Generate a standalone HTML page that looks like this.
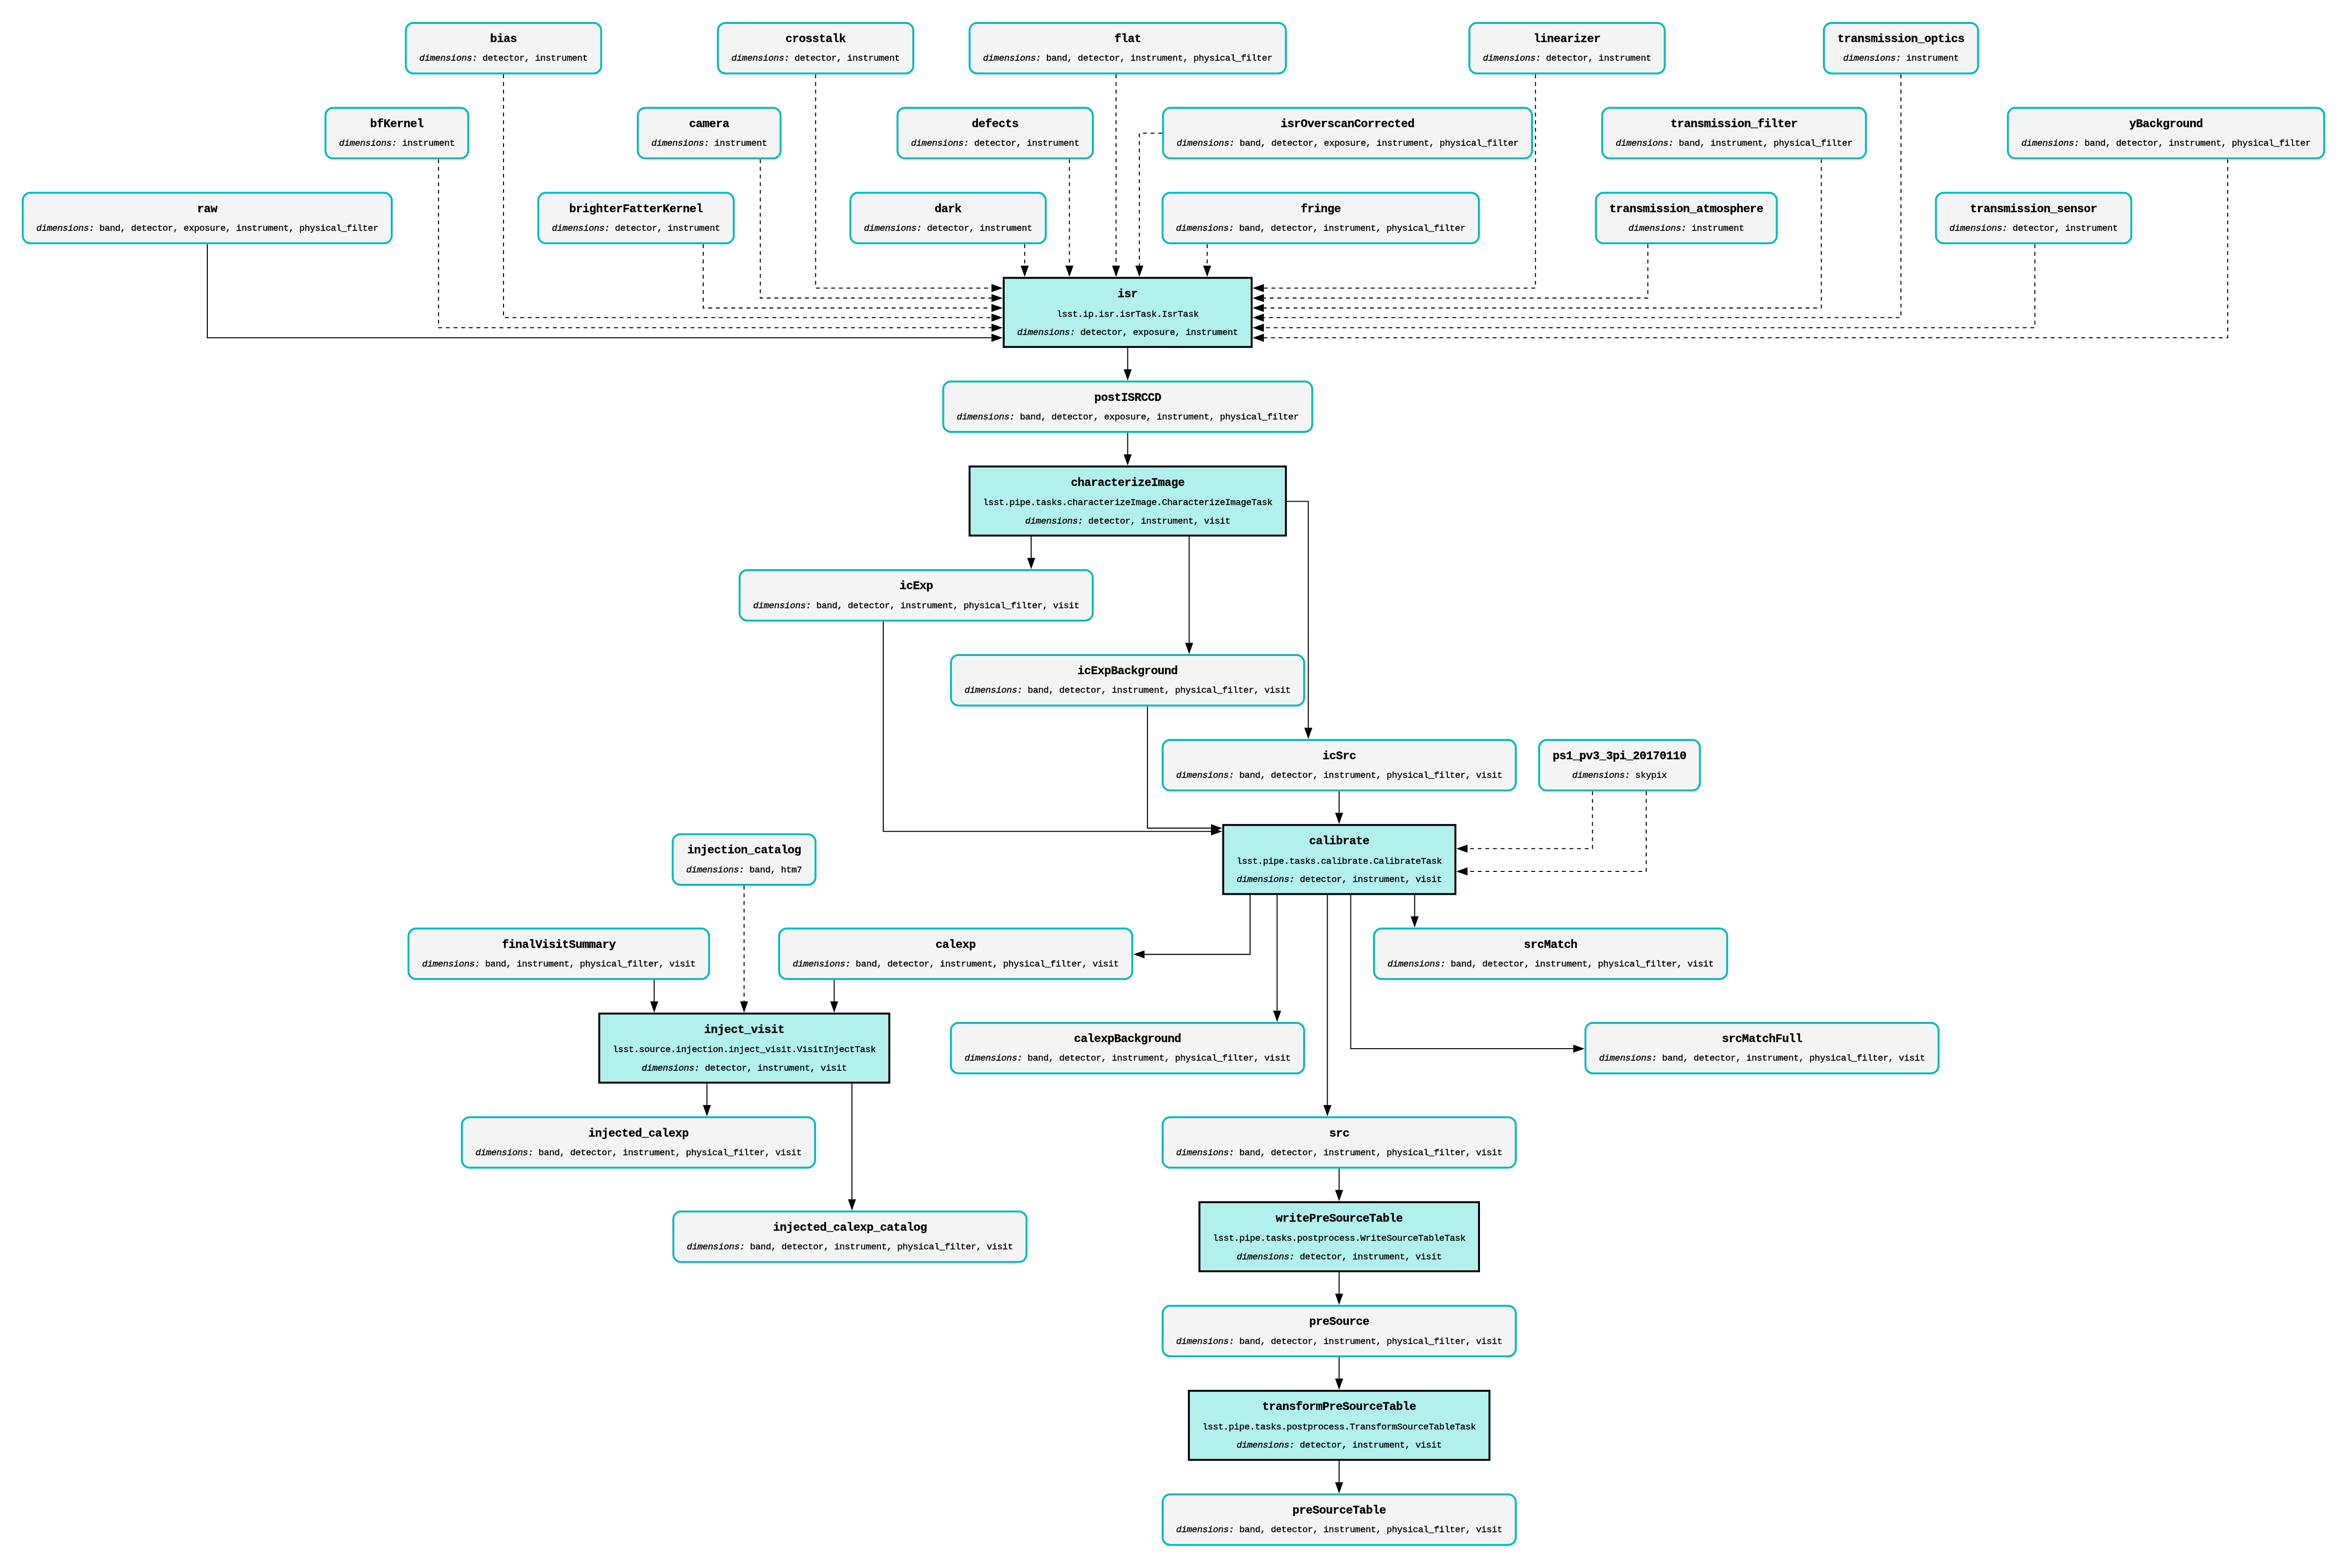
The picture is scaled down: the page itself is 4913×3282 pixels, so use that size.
<!DOCTYPE html>
<html><head><meta charset="utf-8"><title>pipeline</title>
<style>
html,body{margin:0;padding:0;background:#fff;}
svg{display:block;will-change:transform;}
text{font-family:"Liberation Mono",monospace;fill:#000;}
.t{font-weight:bold;font-size:24.2px;letter-spacing:-0.52px;stroke:#000;stroke-width:0.4px;}
.r{font-size:19.0px;letter-spacing:-0.39px;stroke:#000;stroke-width:0.45px;}
.i{font-style:italic;}
.e{fill:none;stroke:#000;stroke-width:2.10;}
.d{stroke-dasharray:8 8;}
.a{fill:#000;stroke:none;}
.db{fill:#F4F4F4;stroke:#00BABC;stroke-width:4.00;}
.tb{fill:#B2F0EE;stroke:#000;stroke-width:4.00;}
</style></head><body>
<svg width="4913" height="3282" viewBox="0 0 4913 3282">
<rect x="0" y="0" width="4913" height="3282" fill="#fff"/>
<path class="e d" d="M1707.3 155.7 L1707.3 603 L2075.5 603"/>
<polygon class="a" points="2099,603 2075.5,611.4 2075.5,594.6"/>
<path class="e d" d="M1591.6 333.5 L1591.6 623.9 L2075.5 623.9"/>
<polygon class="a" points="2099,623.9 2075.5,632.3 2075.5,615.5"/>
<path class="e d" d="M1472 511.3 L1472 644.6 L2075.5 644.6"/>
<polygon class="a" points="2099,644.6 2075.5,653 2075.5,636.2"/>
<path class="e d" d="M1054 155.7 L1054 664.8 L2075.5 664.8"/>
<polygon class="a" points="2099,664.8 2075.5,673.2 2075.5,656.4"/>
<path class="e d" d="M918 333.5 L918 686 L2075.5 686"/>
<polygon class="a" points="2099,686 2075.5,694.4 2075.5,677.6"/>
<path class="e" d="M434 511.3 L434 707 L2075.5 707"/>
<polygon class="a" points="2099,707 2075.5,715.4 2075.5,698.6"/>
<path class="e d" d="M3214.2 155.7 L3214.2 603 L2645.7 603"/>
<polygon class="a" points="2622.2,603 2645.7,594.6 2645.7,611.4"/>
<path class="e d" d="M3449.4 511.3 L3449.4 623.9 L2645.7 623.9"/>
<polygon class="a" points="2622.2,623.9 2645.7,615.5 2645.7,632.3"/>
<path class="e d" d="M3812.6 333.5 L3812.6 644.6 L2645.7 644.6"/>
<polygon class="a" points="2622.2,644.6 2645.7,636.2 2645.7,653"/>
<path class="e d" d="M3979.3 155.7 L3979.3 664.8 L2645.7 664.8"/>
<polygon class="a" points="2622.2,664.8 2645.7,656.4 2645.7,673.2"/>
<path class="e d" d="M4259.6 511.3 L4259.6 686 L2645.7 686"/>
<polygon class="a" points="2622.2,686 2645.7,677.6 2645.7,694.4"/>
<path class="e d" d="M4663.2 333.5 L4663.2 707 L2645.7 707"/>
<polygon class="a" points="2622.2,707 2645.7,698.6 2645.7,715.4"/>
<path class="e d" d="M2145 511.3 L2145 556.1"/>
<polygon class="a" points="2145,579.6 2136.6,556.1 2153.4,556.1"/>
<path class="e d" d="M2238.6 333.5 L2238.6 556.1"/>
<polygon class="a" points="2238.6,579.6 2230.2,556.1 2247,556.1"/>
<path class="e d" d="M2336.3 155.7 L2336.3 556.1"/>
<polygon class="a" points="2336.3,579.6 2327.9,556.1 2344.7,556.1"/>
<path class="e d" d="M2432.6 278.8 L2385 278.8 L2385 556.1"/>
<polygon class="a" points="2385,579.6 2376.6,556.1 2393.4,556.1"/>
<path class="e d" d="M2527 511.3 L2527 556.1"/>
<polygon class="a" points="2527,579.6 2518.6,556.1 2535.4,556.1"/>
<path class="e" d="M2360.6 728.1 L2360.6 772.9"/>
<polygon class="a" points="2360.6,796.4 2352.2,772.9 2369,772.9"/>
<path class="e" d="M2360.6 906.1 L2360.6 950.9"/>
<polygon class="a" points="2360.6,974.4 2352.2,950.9 2369,950.9"/>
<path class="e" d="M2158.6 1123 L2158.6 1167.7"/>
<polygon class="a" points="2158.6,1191.2 2150.2,1167.7 2167,1167.7"/>
<path class="e" d="M2489.3 1123 L2489.3 1345.5"/>
<polygon class="a" points="2489.3,1369 2480.9,1345.5 2497.7,1345.5"/>
<path class="e" d="M2693.8 1049.5 L2738.7 1049.5 L2738.7 1523.3"/>
<polygon class="a" points="2738.7,1546.8 2730.3,1523.3 2747.1,1523.3"/>
<path class="e" d="M2803.2 1656.5 L2803.2 1701.2"/>
<polygon class="a" points="2803.2,1724.8 2794.8,1701.2 2811.6,1701.2"/>
<path class="e" d="M1849 1300.9 L1849 1740.2 L2535 1740.2"/>
<polygon class="a" points="2558.5,1740.2 2535,1748.6 2535,1731.8"/>
<path class="e" d="M2402 1478.7 L2402 1733.4 L2535 1733.4"/>
<polygon class="a" points="2558.5,1733.4 2535,1741.8 2535,1725"/>
<path class="e d" d="M3333.6 1656.5 L3333.6 1776.3 L3072 1776.3"/>
<polygon class="a" points="3048.5,1776.3 3072,1767.9 3072,1784.7"/>
<path class="e d" d="M3446 1656.5 L3446 1824 L3072 1824"/>
<polygon class="a" points="3048.5,1824 3072,1815.6 3072,1832.4"/>
<path class="e" d="M2616.8 1873.3 L2616.8 1997.6 L2395.8 1997.6"/>
<polygon class="a" points="2372.3,1997.6 2395.8,1989.2 2395.8,2006"/>
<path class="e" d="M2673.4 1873.3 L2673.4 2115.5"/>
<polygon class="a" points="2673.4,2139 2665,2115.5 2681.8,2115.5"/>
<path class="e" d="M2778.6 1873.3 L2778.6 2312.9"/>
<polygon class="a" points="2778.6,2336.4 2770.2,2312.9 2787,2312.9"/>
<path class="e" d="M2827.5 1873.3 L2827.5 2195 L3293.3 2195"/>
<polygon class="a" points="3316.8,2195 3293.3,2203.4 3293.3,2186.6"/>
<path class="e" d="M2961.3 1873.3 L2961.3 1918.1"/>
<polygon class="a" points="2961.3,1941.6 2952.9,1918.1 2969.7,1918.1"/>
<path class="e d" d="M1557.6 1853.9 L1557.6 2096"/>
<polygon class="a" points="1557.6,2119.5 1549.2,2096 1566,2096"/>
<path class="e" d="M1369.4 2051.3 L1369.4 2096"/>
<polygon class="a" points="1369.4,2119.5 1361,2096 1377.8,2096"/>
<path class="e" d="M1746.2 2051.3 L1746.2 2096"/>
<polygon class="a" points="1746.2,2119.5 1737.8,2096 1754.6,2096"/>
<path class="e" d="M1479.8 2268.2 L1479.8 2312.9"/>
<polygon class="a" points="1479.8,2336.4 1471.4,2312.9 1488.2,2312.9"/>
<path class="e" d="M1783.4 2268.2 L1783.4 2510.3"/>
<polygon class="a" points="1783.4,2533.8 1775,2510.3 1791.8,2510.3"/>
<path class="e" d="M2803.2 2446.1 L2803.2 2490.8"/>
<polygon class="a" points="2803.2,2514.3 2794.8,2490.8 2811.6,2490.8"/>
<path class="e" d="M2803.2 2663 L2803.2 2707.7"/>
<polygon class="a" points="2803.2,2731.2 2794.8,2707.7 2811.6,2707.7"/>
<path class="e" d="M2803.2 2840.9 L2803.2 2885.6"/>
<polygon class="a" points="2803.2,2909.1 2794.8,2885.6 2811.6,2885.6"/>
<path class="e" d="M2803.2 3057.8 L2803.2 3102.5"/>
<polygon class="a" points="2803.2,3126 2794.8,3102.5 2811.6,3102.5"/>
<rect class="db" x="849.5" y="48" width="409" height="105.7" rx="16" ry="16"/>
<text class="t" x="1054" y="88.2" text-anchor="middle">bias</text>
<text class="r" x="1054" y="127.3" text-anchor="middle"><tspan class="i">dimensions:</tspan> detector, instrument</text>
<rect class="db" x="1502.8" y="48" width="409" height="105.7" rx="16" ry="16"/>
<text class="t" x="1707.3" y="88.2" text-anchor="middle">crosstalk</text>
<text class="r" x="1707.3" y="127.3" text-anchor="middle"><tspan class="i">dimensions:</tspan> detector, instrument</text>
<rect class="db" x="2029.6" y="48" width="662.2" height="105.7" rx="16" ry="16"/>
<text class="t" x="2360.7" y="88.2" text-anchor="middle">flat</text>
<text class="r" x="2360.7" y="127.3" text-anchor="middle"><tspan class="i">dimensions:</tspan> band, detector, instrument, physical_filter</text>
<rect class="db" x="3075.8" y="48" width="409" height="105.7" rx="16" ry="16"/>
<text class="t" x="3280.3" y="88.2" text-anchor="middle">linearizer</text>
<text class="r" x="3280.3" y="127.3" text-anchor="middle"><tspan class="i">dimensions:</tspan> detector, instrument</text>
<rect class="db" x="3818" y="48" width="322.7" height="105.7" rx="16" ry="16"/>
<text class="t" x="3979.3" y="88.2" text-anchor="middle">transmission_optics</text>
<text class="r" x="3979.3" y="127.3" text-anchor="middle"><tspan class="i">dimensions:</tspan> instrument</text>
<rect class="db" x="681.3" y="225.8" width="298.9" height="105.7" rx="16" ry="16"/>
<text class="t" x="830.8" y="266" text-anchor="middle">bfKernel</text>
<text class="r" x="830.8" y="305.1" text-anchor="middle"><tspan class="i">dimensions:</tspan> instrument</text>
<rect class="db" x="1335.1" y="225.8" width="298.9" height="105.7" rx="16" ry="16"/>
<text class="t" x="1484.6" y="266" text-anchor="middle">camera</text>
<text class="r" x="1484.6" y="305.1" text-anchor="middle"><tspan class="i">dimensions:</tspan> instrument</text>
<rect class="db" x="1878.7" y="225.8" width="409" height="105.7" rx="16" ry="16"/>
<text class="t" x="2083.2" y="266" text-anchor="middle">defects</text>
<text class="r" x="2083.2" y="305.1" text-anchor="middle"><tspan class="i">dimensions:</tspan> detector, instrument</text>
<rect class="db" x="2434.6" y="225.8" width="772.4" height="105.7" rx="16" ry="16"/>
<text class="t" x="2820.8" y="266" text-anchor="middle">isrOverscanCorrected</text>
<text class="r" x="2820.8" y="305.1" text-anchor="middle"><tspan class="i">dimensions:</tspan> band, detector, exposure, instrument, physical_filter</text>
<rect class="db" x="3353.9" y="225.8" width="552.1" height="105.7" rx="16" ry="16"/>
<text class="t" x="3630" y="266" text-anchor="middle">transmission_filter</text>
<text class="r" x="3630" y="305.1" text-anchor="middle"><tspan class="i">dimensions:</tspan> band, instrument, physical_filter</text>
<rect class="db" x="4203.1" y="225.8" width="662.2" height="105.7" rx="16" ry="16"/>
<text class="t" x="4534.2" y="266" text-anchor="middle">yBackground</text>
<text class="r" x="4534.2" y="305.1" text-anchor="middle"><tspan class="i">dimensions:</tspan> band, detector, instrument, physical_filter</text>
<rect class="db" x="47.6" y="403.6" width="772.4" height="105.7" rx="16" ry="16"/>
<text class="t" x="433.8" y="443.8" text-anchor="middle">raw</text>
<text class="r" x="433.8" y="482.9" text-anchor="middle"><tspan class="i">dimensions:</tspan> band, detector, exposure, instrument, physical_filter</text>
<rect class="db" x="1126.9" y="403.6" width="409" height="105.7" rx="16" ry="16"/>
<text class="t" x="1331.4" y="443.8" text-anchor="middle">brighterFatterKernel</text>
<text class="r" x="1331.4" y="482.9" text-anchor="middle"><tspan class="i">dimensions:</tspan> detector, instrument</text>
<rect class="db" x="1780.1" y="403.6" width="409" height="105.7" rx="16" ry="16"/>
<text class="t" x="1984.6" y="443.8" text-anchor="middle">dark</text>
<text class="r" x="1984.6" y="482.9" text-anchor="middle"><tspan class="i">dimensions:</tspan> detector, instrument</text>
<rect class="db" x="2433.6" y="403.6" width="662.2" height="105.7" rx="16" ry="16"/>
<text class="t" x="2764.7" y="443.8" text-anchor="middle">fringe</text>
<text class="r" x="2764.7" y="482.9" text-anchor="middle"><tspan class="i">dimensions:</tspan> band, detector, instrument, physical_filter</text>
<rect class="db" x="3340.7" y="403.6" width="378.7" height="105.7" rx="16" ry="16"/>
<text class="t" x="3530" y="443.8" text-anchor="middle">transmission_atmosphere</text>
<text class="r" x="3530" y="482.9" text-anchor="middle"><tspan class="i">dimensions:</tspan> instrument</text>
<rect class="db" x="4052.5" y="403.6" width="409" height="105.7" rx="16" ry="16"/>
<text class="t" x="4257" y="443.8" text-anchor="middle">transmission_sensor</text>
<text class="r" x="4257" y="482.9" text-anchor="middle"><tspan class="i">dimensions:</tspan> detector, instrument</text>
<rect class="db" x="1974.5" y="798.4" width="772.4" height="105.7" rx="16" ry="16"/>
<text class="t" x="2360.7" y="838.6" text-anchor="middle">postISRCCD</text>
<text class="r" x="2360.7" y="877.7" text-anchor="middle"><tspan class="i">dimensions:</tspan> band, detector, exposure, instrument, physical_filter</text>
<rect class="db" x="1548.2" y="1193.2" width="739.3" height="105.7" rx="16" ry="16"/>
<text class="t" x="1917.9" y="1233.4" text-anchor="middle">icExp</text>
<text class="r" x="1917.9" y="1272.5" text-anchor="middle"><tspan class="i">dimensions:</tspan> band, detector, instrument, physical_filter, visit</text>
<rect class="db" x="1990.7" y="1371" width="739.3" height="105.7" rx="16" ry="16"/>
<text class="t" x="2360.4" y="1411.2" text-anchor="middle">icExpBackground</text>
<text class="r" x="2360.4" y="1450.3" text-anchor="middle"><tspan class="i">dimensions:</tspan> band, detector, instrument, physical_filter, visit</text>
<rect class="db" x="2433.7" y="1548.8" width="739.3" height="105.7" rx="16" ry="16"/>
<text class="t" x="2803.4" y="1589" text-anchor="middle">icSrc</text>
<text class="r" x="2803.4" y="1628.1" text-anchor="middle"><tspan class="i">dimensions:</tspan> band, detector, instrument, physical_filter, visit</text>
<rect class="db" x="3221.8" y="1548.8" width="336.7" height="105.7" rx="16" ry="16"/>
<text class="t" x="3390.1" y="1589" text-anchor="middle">ps1_pv3_3pi_20170110</text>
<text class="r" x="3390.1" y="1628.1" text-anchor="middle"><tspan class="i">dimensions:</tspan> skypix</text>
<rect class="db" x="1408.2" y="1746.2" width="298.9" height="105.7" rx="16" ry="16"/>
<text class="t" x="1557.7" y="1786.4" text-anchor="middle">injection_catalog</text>
<text class="r" x="1557.7" y="1825.5" text-anchor="middle"><tspan class="i">dimensions:</tspan> band, htm7</text>
<rect class="db" x="855.1" y="1943.6" width="629.2" height="105.7" rx="16" ry="16"/>
<text class="t" x="1169.7" y="1983.8" text-anchor="middle">finalVisitSummary</text>
<text class="r" x="1169.7" y="2022.9" text-anchor="middle"><tspan class="i">dimensions:</tspan> band, instrument, physical_filter, visit</text>
<rect class="db" x="1630.9" y="1943.6" width="739.3" height="105.7" rx="16" ry="16"/>
<text class="t" x="2000.6" y="1983.8" text-anchor="middle">calexp</text>
<text class="r" x="2000.6" y="2022.9" text-anchor="middle"><tspan class="i">dimensions:</tspan> band, detector, instrument, physical_filter, visit</text>
<rect class="db" x="2876.2" y="1943.6" width="739.3" height="105.7" rx="16" ry="16"/>
<text class="t" x="3245.9" y="1983.8" text-anchor="middle">srcMatch</text>
<text class="r" x="3245.9" y="2022.9" text-anchor="middle"><tspan class="i">dimensions:</tspan> band, detector, instrument, physical_filter, visit</text>
<rect class="db" x="1990.6" y="2141" width="739.3" height="105.7" rx="16" ry="16"/>
<text class="t" x="2360.3" y="2181.2" text-anchor="middle">calexpBackground</text>
<text class="r" x="2360.3" y="2220.3" text-anchor="middle"><tspan class="i">dimensions:</tspan> band, detector, instrument, physical_filter, visit</text>
<rect class="db" x="3318.8" y="2141" width="739.3" height="105.7" rx="16" ry="16"/>
<text class="t" x="3688.5" y="2181.2" text-anchor="middle">srcMatchFull</text>
<text class="r" x="3688.5" y="2220.3" text-anchor="middle"><tspan class="i">dimensions:</tspan> band, detector, instrument, physical_filter, visit</text>
<rect class="db" x="966.9" y="2338.4" width="739.3" height="105.7" rx="16" ry="16"/>
<text class="t" x="1336.6" y="2378.6" text-anchor="middle">injected_calexp</text>
<text class="r" x="1336.6" y="2417.7" text-anchor="middle"><tspan class="i">dimensions:</tspan> band, detector, instrument, physical_filter, visit</text>
<rect class="db" x="2433.7" y="2338.4" width="739.3" height="105.7" rx="16" ry="16"/>
<text class="t" x="2803.4" y="2378.6" text-anchor="middle">src</text>
<text class="r" x="2803.4" y="2417.7" text-anchor="middle"><tspan class="i">dimensions:</tspan> band, detector, instrument, physical_filter, visit</text>
<rect class="db" x="1409.5" y="2535.8" width="739.3" height="105.7" rx="16" ry="16"/>
<text class="t" x="1779.2" y="2576" text-anchor="middle">injected_calexp_catalog</text>
<text class="r" x="1779.2" y="2615.1" text-anchor="middle"><tspan class="i">dimensions:</tspan> band, detector, instrument, physical_filter, visit</text>
<rect class="db" x="2433.7" y="2733.2" width="739.3" height="105.7" rx="16" ry="16"/>
<text class="t" x="2803.4" y="2773.4" text-anchor="middle">preSource</text>
<text class="r" x="2803.4" y="2812.5" text-anchor="middle"><tspan class="i">dimensions:</tspan> band, detector, instrument, physical_filter, visit</text>
<rect class="db" x="2433.7" y="3128" width="739.3" height="105.7" rx="16" ry="16"/>
<text class="t" x="2803.4" y="3168.2" text-anchor="middle">preSourceTable</text>
<text class="r" x="2803.4" y="3207.3" text-anchor="middle"><tspan class="i">dimensions:</tspan> band, detector, instrument, physical_filter, visit</text>
<rect class="tb" x="2101" y="581.6" width="519.1" height="144.6"/>
<text class="t" x="2360.6" y="621.8" text-anchor="middle">isr</text>
<text class="r" x="2360.6" y="662.5" text-anchor="middle">lsst.ip.isr.isrTask.IsrTask</text>
<text class="r" x="2360.6" y="700.8" text-anchor="middle"><tspan class="i">dimensions:</tspan> detector, exposure, instrument</text>
<rect class="tb" x="2029.6" y="976.4" width="662.2" height="144.6"/>
<text class="t" x="2360.7" y="1016.6" text-anchor="middle">characterizeImage</text>
<text class="r" x="2360.7" y="1057.3" text-anchor="middle">lsst.pipe.tasks.characterizeImage.CharacterizeImageTask</text>
<text class="r" x="2360.7" y="1095.6" text-anchor="middle"><tspan class="i">dimensions:</tspan> detector, instrument, visit</text>
<rect class="tb" x="2560.5" y="1726.8" width="486.1" height="144.6"/>
<text class="t" x="2803.5" y="1767" text-anchor="middle">calibrate</text>
<text class="r" x="2803.5" y="1807.7" text-anchor="middle">lsst.pipe.tasks.calibrate.CalibrateTask</text>
<text class="r" x="2803.5" y="1846" text-anchor="middle"><tspan class="i">dimensions:</tspan> detector, instrument, visit</text>
<rect class="tb" x="1254.4" y="2121.5" width="607.2" height="144.6"/>
<text class="t" x="1558" y="2161.7" text-anchor="middle">inject_visit</text>
<text class="r" x="1558" y="2202.4" text-anchor="middle">lsst.source.injection.inject_visit.VisitInjectTask</text>
<text class="r" x="1558" y="2240.7" text-anchor="middle"><tspan class="i">dimensions:</tspan> detector, instrument, visit</text>
<rect class="tb" x="2510.8" y="2516.3" width="585.2" height="144.6"/>
<text class="t" x="2803.4" y="2556.5" text-anchor="middle">writePreSourceTable</text>
<text class="r" x="2803.4" y="2597.2" text-anchor="middle">lsst.pipe.tasks.postprocess.WriteSourceTableTask</text>
<text class="r" x="2803.4" y="2635.5" text-anchor="middle"><tspan class="i">dimensions:</tspan> detector, instrument, visit</text>
<rect class="tb" x="2488.7" y="2911.1" width="629.2" height="144.6"/>
<text class="t" x="2803.3" y="2951.3" text-anchor="middle">transformPreSourceTable</text>
<text class="r" x="2803.3" y="2992" text-anchor="middle">lsst.pipe.tasks.postprocess.TransformSourceTableTask</text>
<text class="r" x="2803.3" y="3030.3" text-anchor="middle"><tspan class="i">dimensions:</tspan> detector, instrument, visit</text>
</svg>
</body></html>
